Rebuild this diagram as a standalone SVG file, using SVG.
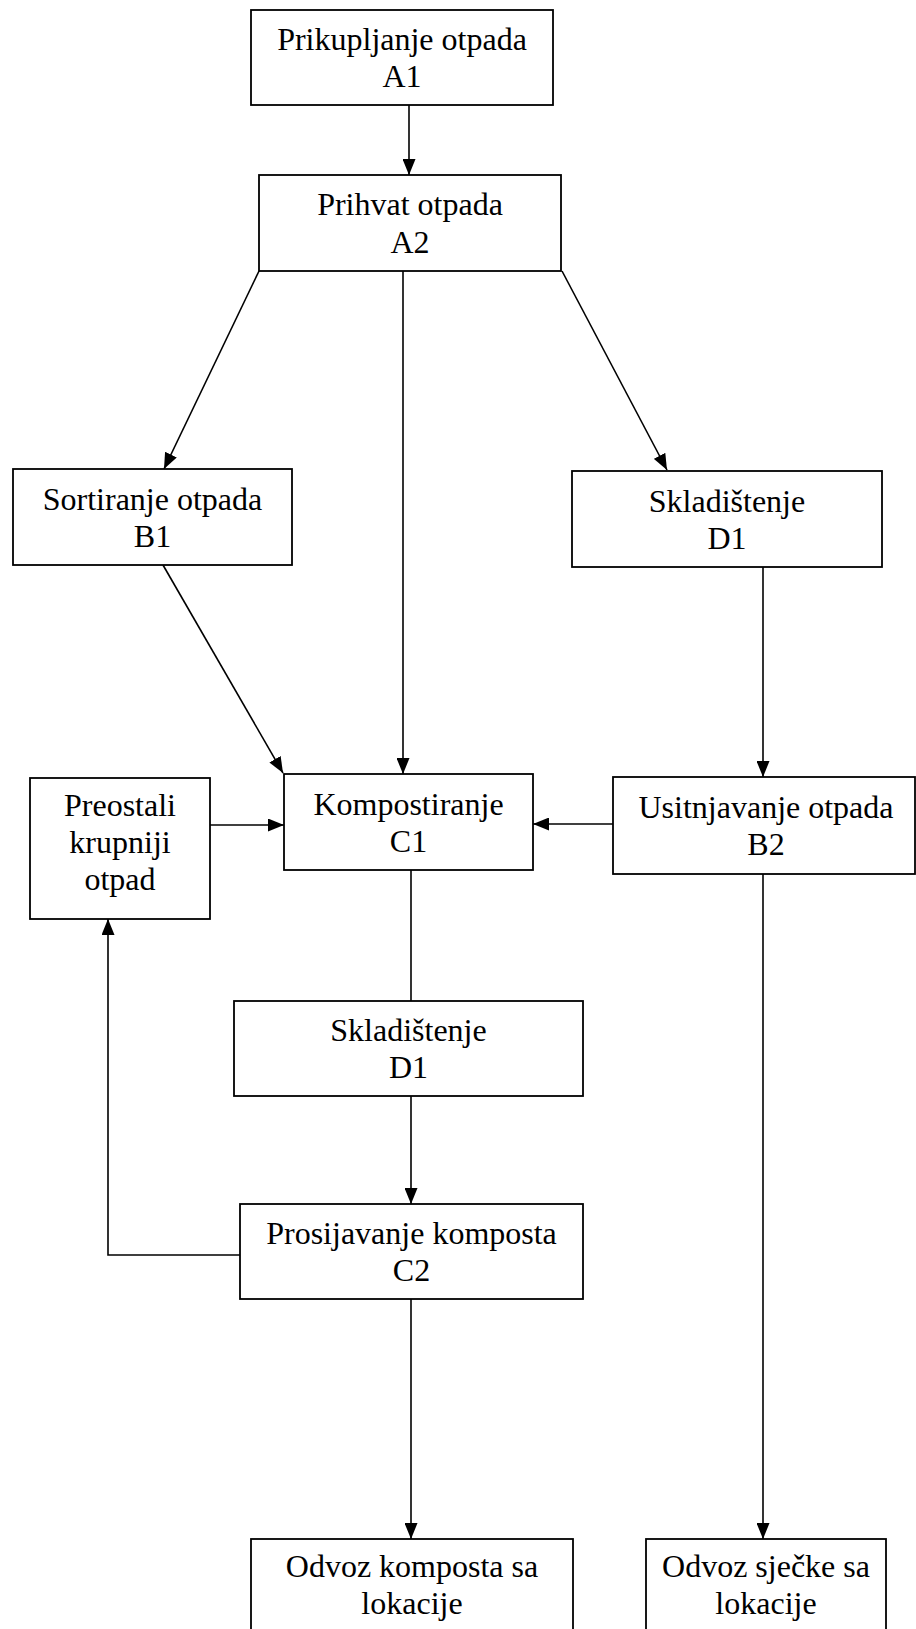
<svg xmlns="http://www.w3.org/2000/svg" width="916" height="1629" viewBox="0 0 916 1629">
<style>
.box{fill:#fff;stroke:#000;stroke-width:1.8}
.t{font-family:"Liberation Serif","Times New Roman",serif;font-size:32px;fill:#000;text-anchor:middle}
.c{fill:none;stroke:#000;stroke-width:1.6}
</style>
<defs>
<marker id="ah" markerUnits="userSpaceOnUse" markerWidth="17" markerHeight="13" refX="16" refY="6.5" orient="auto">
<path d="M0,0 L16,6.5 L0,13 Z" fill="#000"/>
</marker>
</defs>
<rect width="916" height="1629" fill="#fff"/>
<g id="connectors">
<line class="c" x1="409" y1="105" x2="409" y2="175" marker-end="url(#ah)"/>
<line class="c" x1="259" y1="271" x2="164" y2="469" marker-end="url(#ah)"/>
<line class="c" x1="403" y1="271" x2="403" y2="774" marker-end="url(#ah)"/>
<line class="c" x1="562" y1="271" x2="667" y2="470" marker-end="url(#ah)"/>
<line class="c" x1="163" y1="565" x2="283" y2="773" marker-end="url(#ah)"/>
<line class="c" x1="763" y1="567" x2="763" y2="777" marker-end="url(#ah)"/>
<line class="c" x1="210" y1="825" x2="284" y2="825" marker-end="url(#ah)"/>
<line class="c" x1="613" y1="824" x2="533" y2="824" marker-end="url(#ah)"/>
<line class="c" x1="411" y1="870" x2="411" y2="1001"/>
<line class="c" x1="411" y1="1096" x2="411" y2="1204" marker-end="url(#ah)"/>
<polyline class="c" points="240,1255 108,1255 108,919" marker-end="url(#ah)"/>
<line class="c" x1="411" y1="1299" x2="411" y2="1539" marker-end="url(#ah)"/>
<line class="c" x1="763" y1="874" x2="763" y2="1539" marker-end="url(#ah)"/>
</g>
<g id="A1">
<rect class="box" x="251" y="10" width="302" height="95"/>
<text class="t" x="402" y="50">Prikupljanje otpada</text>
<text class="t" x="402" y="87">A1</text>
</g>
<g id="A2">
<rect class="box" x="259" y="175" width="302" height="96"/>
<text class="t" x="410" y="215">Prihvat otpada</text>
<text class="t" x="410" y="253">A2</text>
</g>
<g id="B1">
<rect class="box" x="13" y="469" width="279" height="96"/>
<text class="t" x="152.5" y="509.5">Sortiranje otpada</text>
<text class="t" x="152.5" y="546.5">B1</text>
</g>
<g id="D1a">
<rect class="box" x="572" y="471" width="310" height="96"/>
<text class="t" x="727" y="511.5">Skladištenje</text>
<text class="t" x="727" y="548.5">D1</text>
</g>
<g id="P">
<rect class="box" x="30" y="778" width="180" height="141"/>
<text class="t" x="120" y="816">Preostali</text>
<text class="t" x="120" y="853">krupniji</text>
<text class="t" x="120" y="890">otpad</text>
</g>
<g id="C1">
<rect class="box" x="284" y="774" width="249" height="96"/>
<text class="t" x="408.5" y="814.5">Kompostiranje</text>
<text class="t" x="408.5" y="851.5">C1</text>
</g>
<g id="B2">
<rect class="box" x="613" y="777" width="302" height="97"/>
<text class="t" x="766" y="818">Usitnjavanje otpada</text>
<text class="t" x="766" y="855">B2</text>
</g>
<g id="D1b">
<rect class="box" x="234" y="1001" width="349" height="95"/>
<text class="t" x="408.5" y="1041">Skladištenje</text>
<text class="t" x="408.5" y="1078">D1</text>
</g>
<g id="C2">
<rect class="box" x="240" y="1204" width="343" height="95"/>
<text class="t" x="411.5" y="1244">Prosijavanje komposta</text>
<text class="t" x="411.5" y="1281">C2</text>
</g>
<g id="E1">
<rect class="box" x="251" y="1539" width="322" height="120"/>
<text class="t" x="412" y="1577">Odvoz komposta sa</text>
<text class="t" x="412" y="1614">lokacije</text>
</g>
<g id="E2">
<rect class="box" x="646" y="1539" width="240" height="120"/>
<text class="t" x="766" y="1577">Odvoz sječke sa</text>
<text class="t" x="766" y="1614">lokacije</text>
</g>
</svg>
